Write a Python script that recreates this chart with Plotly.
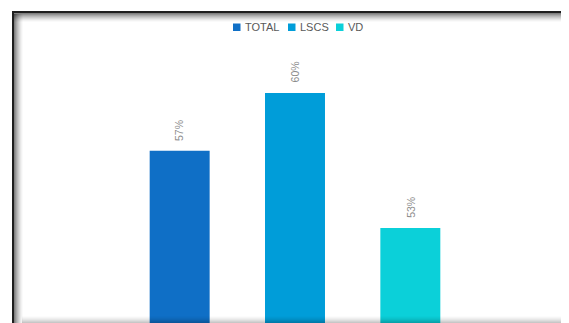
import plotly.graph_objects as go

categories = ["TOTAL", "LSCS", "VD"]
values = [57, 60, 53]
labels = ["57%", "60%", "53%"]
colors = ["#0F6FC6", "#009DD9", "#0BD0D9"]

# the page body has an 8px margin; work in reference-pixel coordinates
OX, OY = 8, 8
W, H = 569 - OX, 323 - OY
ML, MR, MT, MB = 122 - OX, 101, 40 - OY, 0
PW, PH = W - ML - MR, H - MT - MB

def px(x):
    return (x - OX - ML) / PW

def py(y):
    return (H - MB - (y - OY)) / PH

fig = go.Figure()
for c, v, col in zip(categories, values, colors):
    fig.add_trace(go.Bar(x=[c], y=[v], name=c, marker_color=col, marker_line_width=0,
                         showlegend=False))

for c, v, t in zip(categories, values, labels):
    fig.add_annotation(x=c, y=v, text=t, textangle=-90, showarrow=False,
                       yanchor="bottom", yshift=8,
                       font=dict(family="Liberation Sans, Arial", size=10.5, color="#8c8c8c"))

shapes = []
# custom legend (compact squares like the reference)
legend_sq_x = [233, 288, 336]
for c, col, lx in zip(categories, colors, legend_sq_x):
    shapes.append(dict(type="rect", xref="paper", yref="paper", x0=px(lx), x1=px(lx + 7.5),
                       y0=py(31), y1=py(23.5), fillcolor=col, line_width=0))
    fig.add_annotation(xref="paper", yref="paper", x=px(lx + 10), y=py(26.5), text=c,
                       showarrow=False, xanchor="left", yanchor="middle",
                       font=dict(family="Liberation Sans, Arial", size=11, color="#595959"))

# dark frame lines
shapes.append(dict(type="rect", xref="paper", yref="paper", x0=px(12), x1=px(569), y0=py(11), y1=py(13),
                   fillcolor="#1e1e1e", line_width=0, layer="above"))
shapes.append(dict(type="rect", xref="paper", yref="paper", x0=px(12), x1=px(14), y0=py(11), y1=py(323),
                   fillcolor="#1e1e1e", line_width=0, layer="above"))
# inner shadows
for i in range(9):
    a = 0.5 * (1 - i / 9) ** 1.5
    shapes.append(dict(type="rect", xref="paper", yref="paper", x0=px(14), x1=px(569), y0=py(13 + i), y1=py(14 + i),
                       fillcolor=f"rgba(0,0,0,{a:.3f})", line_width=0, layer="above"))
    shapes.append(dict(type="rect", xref="paper", yref="paper", x0=px(14 + i), x1=px(15 + i), y0=py(14), y1=py(323),
                       fillcolor=f"rgba(0,0,0,{a:.3f})", line_width=0, layer="above"))
for i in range(7):
    a = 0.22 * ((i + 1) / 7) ** 1.5
    shapes.append(dict(type="rect", xref="paper", yref="paper", x0=px(22), x1=px(569), y0=py(316 + i), y1=py(317 + i),
                       fillcolor=f"rgba(0,0,0,{a:.3f})", line_width=0, layer="above"))
for i in range(4):
    a = 0.08 * ((i + 1) / 4)
    shapes.append(dict(type="rect", xref="paper", yref="paper", x0=px(565 + i), x1=px(566 + i), y0=py(22), y1=py(323),
                       fillcolor=f"rgba(0,0,0,{a:.3f})", line_width=0, layer="above"))

fig.update_layout(
    width=W, height=H,
    margin=dict(l=ML, r=MR, t=MT, b=MB),
    paper_bgcolor="white", plot_bgcolor="white",
    barmode="relative", bargap=0.48,
    showlegend=False,
    xaxis=dict(visible=False),
    yaxis=dict(visible=False, range=[48.08, 62.74]),
    shapes=shapes,
)

fig.write_html("out.html")
